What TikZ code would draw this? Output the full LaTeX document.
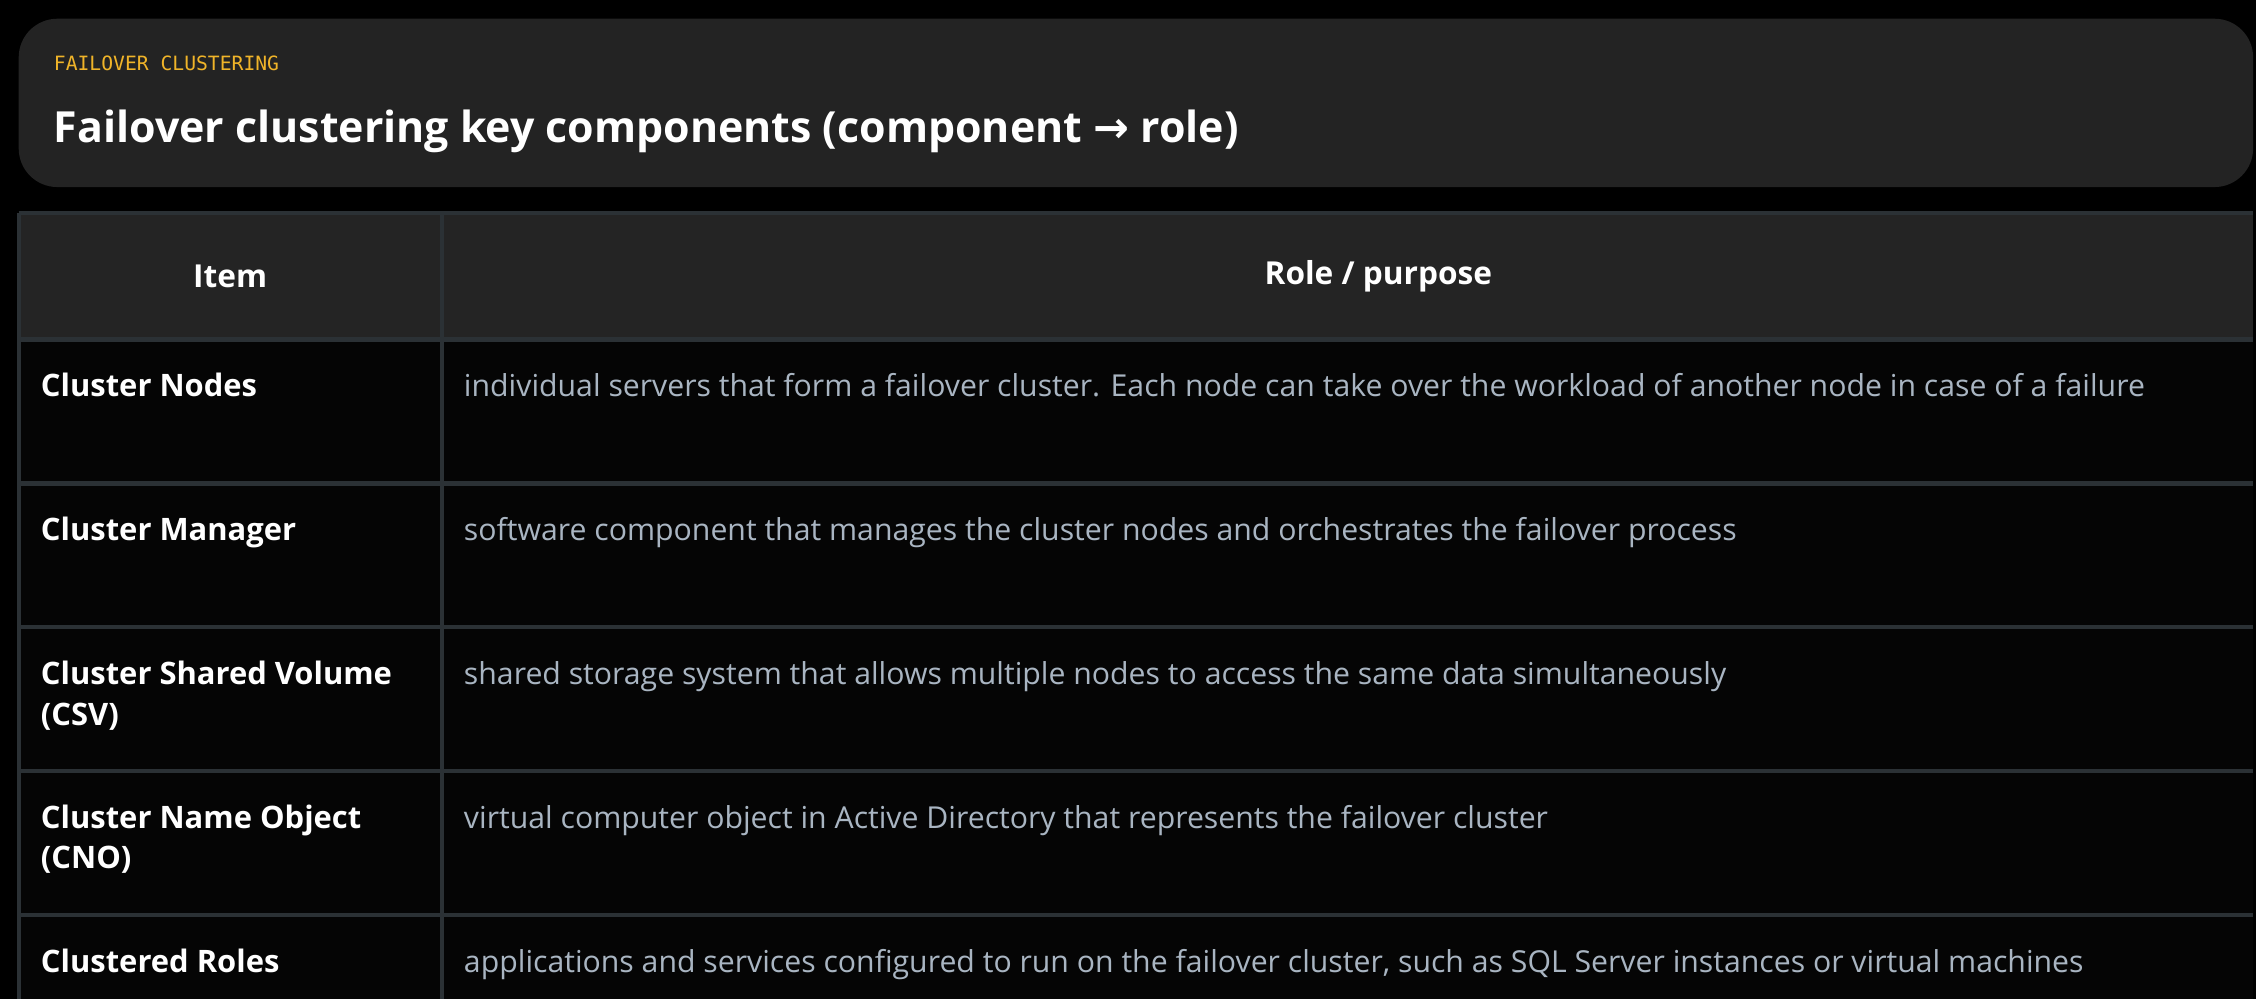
\documentclass[tikz,border=0pt]{standalone}
\usepackage{fontspec}
\setmainfont{Open Sans}
\setmonofont{DejaVu Sans Mono}
\newfontfamily\arrowfont{DejaVu Sans}
\usetikzlibrary{positioning}

\definecolor{pagebg}{HTML}{000000}
\definecolor{panelbg}{HTML}{232323}
\definecolor{headbg}{HTML}{242424}
\definecolor{rowbg}{HTML}{050505}
\definecolor{gridline}{HTML}{2B3135}
\definecolor{amber}{HTML}{F0B429}
\definecolor{roletext}{HTML}{A9B5C2}

\tikzset{
  kicker/.style={anchor=west, inner sep=0, text=amber, font=\ttfamily\fontsize{5.6}{6}\selectfont},
  headline/.style={anchor=west, inner sep=0, text=white, font=\bfseries\fontsize{12.2}{13}\selectfont},
  colhead/.style={inner sep=0, text=white, font=\bfseries\fontsize{9}{10}\selectfont},
  itemtext/.style={anchor=north west, inner sep=0, align=left, text=white, font=\bfseries\fontsize{8.8}{11.5}\selectfont},
  roletxt/.style={anchor=north west, inner sep=0, align=left, text=roletext, font=\fontsize{8.6}{11.5}\selectfont},
  cellrule/.style={draw=gridline, line width=1.2pt}
}

\begin{document}
\begin{tikzpicture}[x=0.014388cm, y=-0.014388cm]
    % background
    \fill[pagebg] (0,0) rectangle (1568,694);
    \useasboundingbox (0,0) rectangle (1568,694);
    % title panel
    \fill[panelbg, rounded corners=11pt] (13,13) rectangle (1566,130);
    \node[kicker] (kicker) at (37,44) {FAILOVER CLUSTERING};
    \node[headline] (title) at (37,91) {Failover clustering key components (component {\arrowfont →} role)};
    % table header
    \fill[headbg] (13,148) rectangle (1566,236);
    \node[colhead] (itemhead) at (160,192) {Item};
    \node[colhead] (rolehead) at (958,192) {Role / purpose};
    % table rows
    \fill[rowbg] (13,236) rectangle (1566,694);
    \foreach \i/\name/\role in {
      1/{Cluster Nodes}/{individual servers that form a failover cluster. Each node can take over the workload of another node in case of a failure},
      2/{Cluster Manager}/{software component that manages the cluster nodes and orchestrates the failover process},
      3/{Cluster Shared Volume\\(CSV)}/{shared storage system that allows multiple nodes to access the same data simultaneously},
      4/{Cluster Name Object\\(CNO)}/{virtual computer object in Active Directory that represents the failover cluster},
      5/{Clustered Roles}/{applications and services configured to run on the failover cluster, such as SQL Server instances or virtual machines}}{
      \pgfmathsetmacro{\top}{136+100*\i}
      \node[itemtext] (item\i) at (28,\top+23) {\name};
      \node[roletxt] (role\i) at (322,\top+23) {\role};
    }
    % grid
    \draw[cellrule] (13,148) -- (1566,148);
    \draw[cellrule] (13,236) -- (1566,236);
    \foreach \y in {336,436,536,636}
      \draw[cellrule] (13,\y) -- (1566,\y);
    \draw[cellrule] (13,148) -- (13,694);
    \draw[cellrule] (307,148) -- (307,694);
\end{tikzpicture}
\end{document}
